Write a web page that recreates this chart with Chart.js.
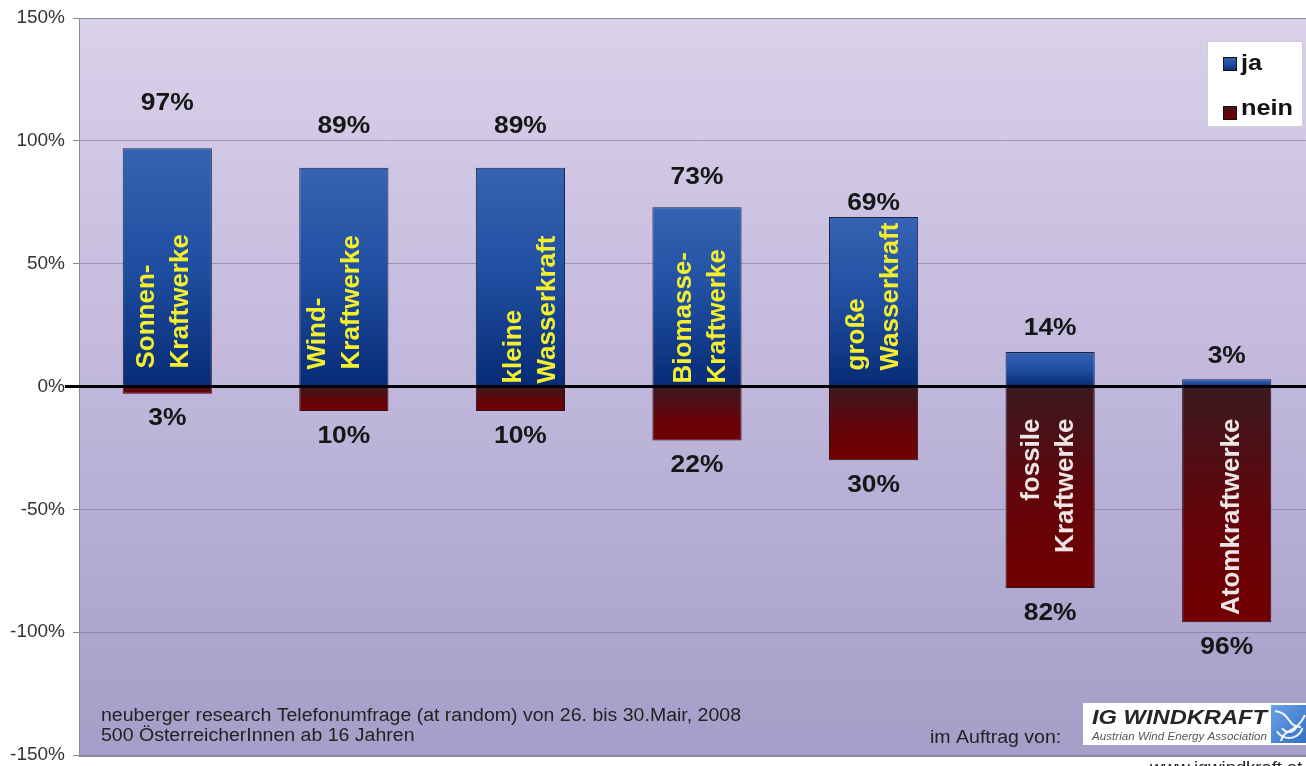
<!DOCTYPE html>
<html>
<head>
<meta charset="utf-8">
<title>Kraftwerke – ja / nein</title>
<script src="https://cdn.jsdelivr.net/npm/chart.js@4.4.1/dist/chart.umd.min.js"></script>
<style>
  html, body { margin: 0; padding: 0; background: #fff; overflow: hidden; }
  #wrap { width: 1316px; height: 766px; }
</style>
</head>
<body>
<div id="wrap"><canvas id="survey" width="1316" height="766"></canvas></div>
<script>
document.addEventListener("DOMContentLoaded", () => {
  const FONT = '"Liberation Sans", Arial, Helvetica, sans-serif';

  // Survey results (share of answers, "nein" drawn below zero)
  const categories = [
    ["Sonnen-", "Kraftwerke"],
    ["Wind-", "Kraftwerke"],
    ["kleine", "Wasserkraft"],
    ["Biomasse-", "Kraftwerke"],
    ["große", "Wasserkraft"],
    ["fossile", "Kraftwerke"],
    ["Atomkraftwerke"],
  ];
  const jaValues = [97, 89, 89, 73, 69, 14, 3];
  const neinValues = [-3, -10, -10, -22, -30, -82, -96];
  const seriesNames = ["ja", "nein"];

  const sourceLines = [
    "neuberger research Telefonumfrage (at random) von 26. bis 30.Mair, 2008",
    "500 ÖsterreicherInnen ab 16 Jahren",
  ];

  // Hand-tuned label placement (pixels)
  const topLabelGap = [45, 41, 41, 30, 14, 24, 23];
  const nameShiftX = [-3, -9, 10, 4, 0, -1, 5];
  const nameStartGap = [18, 17, 3, 3, 16, 0, 0];

  const canvas = document.getElementById("survey");

  // text that is a little wider than the font draws it
  const fillWide = (ctx, text, x, y, sx) => {
    ctx.save();
    ctx.translate(x, y);
    ctx.scale(sx, 1);
    ctx.fillText(text, 0, 0);
    ctx.restore();
  };

  // Vertical gradient for each bar, from its top edge to its bottom edge
  const barGradient = (stops) => (context) => {
    const chart = context.chart;
    const y = chart.scales.y;
    const solid = stops[Math.floor(stops.length / 2)][1];
    if (!y || context.type !== "data") return solid;
    const v = context.raw;
    const top = y.getPixelForValue(Math.max(v, 0));
    const bottom = y.getPixelForValue(Math.min(v, 0));
    if (!isFinite(top) || !isFinite(bottom)) return solid;
    const g = chart.ctx.createLinearGradient(0, top, 0, Math.max(bottom, top + 1));
    stops.forEach(([o, c]) => g.addColorStop(o, c));
    return g;
  };

  const blueStops = [[0, "#3663b4"], [0.5, "#1f4ea0"], [1, "#072b76"]];
  const redStops = [[0, "#3a1a20"], [0.55, "#63040a"], [1, "#720000"]];

  // Plot background with lilac gradient and the framing lines
  const plotBackground = {
    id: "plotBackground",
    beforeDraw(chart) {
      const { ctx, chartArea: a } = chart;
      ctx.save();
      ctx.fillStyle = "#ffffff";
      ctx.fillRect(0, 0, chart.width, chart.height);
      const g = ctx.createLinearGradient(0, a.top, 0, a.bottom);
      g.addColorStop(0, "#d9d1e9");
      g.addColorStop(0.5, "#c0b7dc");
      g.addColorStop(1, "#a69dc8");
      ctx.fillStyle = g;
      ctx.fillRect(a.left, a.top, a.right - a.left, a.bottom - a.top);
      ctx.restore();
    },
    afterDraw(chart) {
      const { ctx, chartArea: a } = chart;
      ctx.save();
      ctx.strokeStyle = "#8e8a9e";
      ctx.lineWidth = 2;
      ctx.beginPath();
      ctx.moveTo(a.left, a.bottom + 1);
      ctx.lineTo(a.right, a.bottom + 1);
      ctx.stroke();
      ctx.restore();
    },
  };

  // Thick zero line, value labels and names written into the bars
  const barAnnotations = {
    id: "barAnnotations",
    afterDatasetsDraw(chart) {
      const { ctx, chartArea: a } = chart;
      const y0 = chart.scales.y.getPixelForValue(0);

      ctx.save();
      ctx.strokeStyle = "#000";
      ctx.lineWidth = 3;
      ctx.beginPath();
      ctx.moveTo(a.left - 14, y0);
      ctx.lineTo(a.right, y0);
      ctx.stroke();

      const jaMeta = chart.getDatasetMeta(0);
      const neinMeta = chart.getDatasetMeta(1);

      ctx.font = `bold 24px ${FONT}`;
      ctx.fillStyle = "#161616";
      ctx.textAlign = "center";
      ctx.textBaseline = "middle";
      jaMeta.data.forEach((bar, i) => {
        fillWide(ctx, `${jaValues[i]}%`, bar.x, bar.y - topLabelGap[i], 1.1);
      });
      neinMeta.data.forEach((bar, i) => {
        fillWide(ctx, `${Math.abs(neinValues[i])}%`, bar.x, bar.y + 25, 1.1);
      });

      // names run bottom-to-top inside the larger part of each bar
      ctx.font = `bold 26px ${FONT}`;
      categories.forEach((lines, i) => {
        const x = jaMeta.data[i].x + nameShiftX[i];
        const upper = jaValues[i] >= Math.abs(neinValues[i]);
        ctx.save();
        if (upper) {
          ctx.translate(x, y0 - nameStartGap[i]);
          ctx.textAlign = "left";
          ctx.fillStyle = "#f3ef2c";
        } else {
          ctx.translate(x, y0 + 32);
          ctx.textAlign = "right";
          ctx.fillStyle = "#eee6e6";
        }
        ctx.rotate(-Math.PI / 2);
        lines.forEach((line, j) => {
          ctx.fillText(line, 0, (j - (lines.length - 1) / 2) * 34);
        });
        ctx.restore();
      });
      ctx.restore();
    },
  };

  // Legend box, survey source and commissioning logo
  const sideNotes = {
    id: "sideNotes",
    afterDraw(chart) {
      const { ctx, chartArea: a } = chart;
      ctx.save();

      // legend
      const lx = a.right - 108, ly = a.top + 23;
      ctx.fillStyle = "#ffffff";
      ctx.fillRect(lx, ly, 95, 85);
      ctx.strokeStyle = "#d0ccd8";
      ctx.lineWidth = 1;
      ctx.strokeRect(lx + 0.5, ly + 0.5, 95, 85);
      const swatches = [blueStops, redStops];
      ctx.font = `bold 22px ${FONT}`;
      ctx.textAlign = "left";
      ctx.textBaseline = "alphabetic";
      seriesNames.forEach((name, i) => {
        const sy = ly + 16 + i * 49;
        const g = ctx.createLinearGradient(0, sy, 0, sy + 14);
        swatches[i].forEach(([o, c]) => g.addColorStop(o, c));
        ctx.fillStyle = g;
        ctx.fillRect(lx + 16, sy, 14, 14);
        ctx.strokeStyle = "#111";
        ctx.strokeRect(lx + 16.5, sy + 0.5, 13, 13);
        ctx.fillStyle = "#111";
        fillWide(ctx, name, lx + 34, ly + 29 + i * 45, 1.15);
      });

      // source note
      ctx.font = `18px ${FONT}`;
      ctx.fillStyle = "#222";
      const sx = 640 / ctx.measureText(sourceLines[0]).width;
      sourceLines.forEach((line, i) => {
        fillWide(ctx, line, a.left + 22, a.bottom - 34 + i * 20, sx);
      });
      fillWide(ctx, "im Auftrag von:", 930, a.bottom - 12, sx);

      // IG Windkraft logo
      const bx = 1083, by = 703;
      ctx.fillStyle = "#ffffff";
      ctx.fillRect(bx, by, 240, 42);
      ctx.save();
      ctx.font = `italic bold 21px ${FONT}`;
      const w1 = ctx.measureText("IG WINDKRAFT").width;
      ctx.translate(bx + 9, by + 21);
      ctx.scale(175 / w1, 1);
      ctx.fillStyle = "#262626";
      ctx.fillText("IG WINDKRAFT", 0, 0);
      ctx.restore();
      ctx.save();
      ctx.font = `italic 10px ${FONT}`;
      const w2 = ctx.measureText("Austrian Wind Energy Association").width;
      ctx.translate(bx + 9, by + 37);
      ctx.scale(175 / w2, 1);
      ctx.fillStyle = "#555";
      ctx.fillText("Austrian Wind Energy Association", 0, 0);
      ctx.restore();

      const ix = bx + 188, iy = by + 2;
      const ig = ctx.createLinearGradient(ix, iy, ix + 40, iy + 38);
      ig.addColorStop(0, "#6aa2e4");
      ig.addColorStop(1, "#2f6cc4");
      ctx.fillStyle = ig;
      ctx.fillRect(ix, iy, 45, 38);
      ctx.strokeStyle = "rgba(255,255,255,0.9)";
      ctx.lineWidth = 2;
      ctx.beginPath();
      ctx.moveTo(ix + 4, iy + 6);
      ctx.bezierCurveTo(ix + 20, iy + 8, ix + 16, iy + 22, ix + 30, iy + 22);
      ctx.moveTo(ix + 10, iy + 36);
      ctx.bezierCurveTo(ix + 12, iy + 24, ix + 26, iy + 28, ix + 34, iy + 10);
      ctx.stroke();
      [8, 14].forEach((r) => {
        ctx.beginPath();
        ctx.arc(ix + 18, iy + 19, r, 0.3, 2.6);
        ctx.stroke();
      });

      // web address below the frame
      ctx.font = `16px ${FONT}`;
      ctx.fillStyle = "#222";
      fillWide(ctx, "www.igwindkraft.at", 1150, chart.height + 7, 1.15);
      ctx.restore();
    },
  };

  Chart.defaults.font.family = FONT;

  new Chart(canvas, {
    type: "bar",
    data: {
      labels: categories,
      datasets: [
        {
          label: seriesNames[0],
          data: jaValues,
          backgroundColor: barGradient(blueStops),
          borderColor: "#1a2448",
          borderWidth: 1,
          borderSkipped: false,
        },
        {
          label: seriesNames[1],
          data: neinValues,
          backgroundColor: barGradient(redStops),
          borderColor: "#2a1216",
          borderWidth: 1,
          borderSkipped: false,
        },
      ],
    },
    options: {
      responsive: false,
      animation: false,
      events: [],
      layout: { padding: { top: 18, bottom: 11, left: 0, right: 1 } },
      datasets: { bar: { categoryPercentage: 1, barPercentage: 0.505 } },
      scales: {
        x: { stacked: true, display: false },
        y: {
          stacked: true,
          min: -150,
          max: 150,
          // fixed axis width; end labels may overhang the plot frame
          afterFit: (scale) => {
            scale.width = 79;
            scale.paddingTop = 0;
            scale.paddingBottom = 0;
          },
          border: { display: true, color: "#8c889c", width: 1 },
          grid: {
            color: (c) => (c.tick && Math.abs(c.tick.value) === 150 ? "#8c889c" : "rgba(120,112,142,0.55)"),
            lineWidth: 1,
            tickLength: 6,
            tickColor: "#8c889c",
          },
          ticks: {
            stepSize: 50,
            padding: 8,
            color: "#333",
            font: { size: 19 },
            callback: (v) => `${v}%`,
          },
        },
      },
      plugins: {
        legend: { display: false },
        tooltip: { enabled: false },
      },
    },
    plugins: [plotBackground, barAnnotations, sideNotes],
  });
});
</script>
</body>
</html>
